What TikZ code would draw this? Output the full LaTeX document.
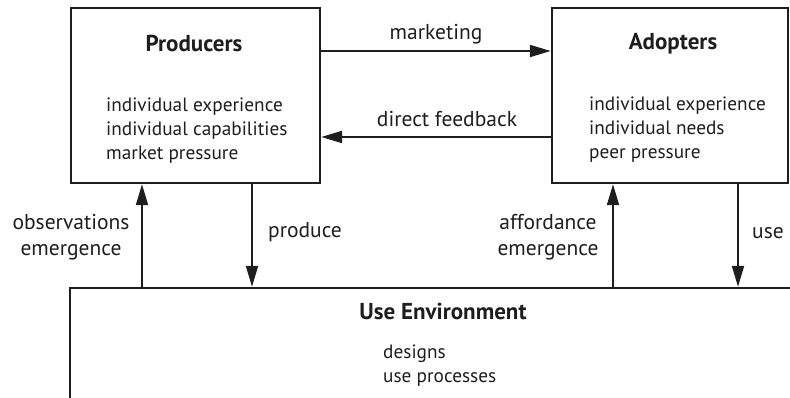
\documentclass[tikz,border=0pt]{standalone}
\usepackage{fontspec}
\setmainfont{PT Sans}
\usepackage{tikz}
\usetikzlibrary{arrows.meta,positioning,calc}
\definecolor{inkgray}{RGB}{30,30,30}
\tikzstyle{block}=[draw=inkgray,line width=2.4pt,inner sep=0pt]
\tikzstyle{title}=[font=\fontsize{23}{26}\selectfont\bfseries,text=inkgray,inner sep=0pt]
\tikzstyle{items}=[font=\fontsize{19.3}{24}\selectfont,text=inkgray,align=left,inner sep=0pt]
\tikzstyle{flowlabel}=[font=\fontsize{21.5}{26}\selectfont,text=inkgray,align=center,inner sep=0pt]
\tikzstyle{flow}=[draw=inkgray,line width=2pt,-{Triangle[length=21pt,width=12pt]}]

\begin{document}
\begin{tikzpicture}[x=1pt,y=-1pt]
\useasboundingbox (0,0) rectangle (790,398);
\clip (0,0) rectangle (790,398);

% the three boxes
\node [block,minimum width=249pt,minimum height=175pt] (prod) at (195.5,95.5) {};
\node [block,minimum width=236pt,minimum height=175pt] (adopt) at (670,95.5) {};
\node [block,minimum width=760pt,minimum height=200pt] (env) at (450,388) {};

\node [title] (prodtitle) at (194,43) {Producers};
\node [items,anchor=west] (proditems) at (106,131) {individual experience\\individual capabilities\\market pressure};

\node [title] (adopttitle) at (673,44) {Adopters};
\node [items,anchor=west] (adoptitems) at (589,130) {individual experience\\individual needs\\peer pressure};

\node [title] (envtitle) at (443,311) {Use Environment};
\node [items,anchor=west] (envitems) at (383,366) {designs\\use processes};

% flows between producers and adopters
\draw [flow] (prod.east |- 0,51) -- (adopt.west |- 0,51);
\draw [flow] (adopt.west |- 0,137) -- (prod.east |- 0,137);
\node [flowlabel] (lmarket) at (436,34) {marketing};
\node [flowlabel] (lfeedback) at (447,119) {direct feedback};

% flows to and from the use environment
\draw [flow] (env.north -| 142,0) -- (prod.south -| 142,0);
\draw [flow] (prod.south -| 252,0) -- (env.north -| 252,0);
\draw [flow] (env.north -| 613,0) -- (adopt.south -| 613,0);
\draw [flow] (adopt.south -| 738,0) -- (env.north -| 738,0);

\node [flowlabel] (lobserve) at (71,237) {observations\\emergence};
\node [flowlabel] (lproduce) at (305,232) {produce};
\node [flowlabel] (lafford) at (548,237) {affordance\\emergence};
\node [flowlabel] (luse) at (768,233) {use};
\end{tikzpicture}
\end{document}
